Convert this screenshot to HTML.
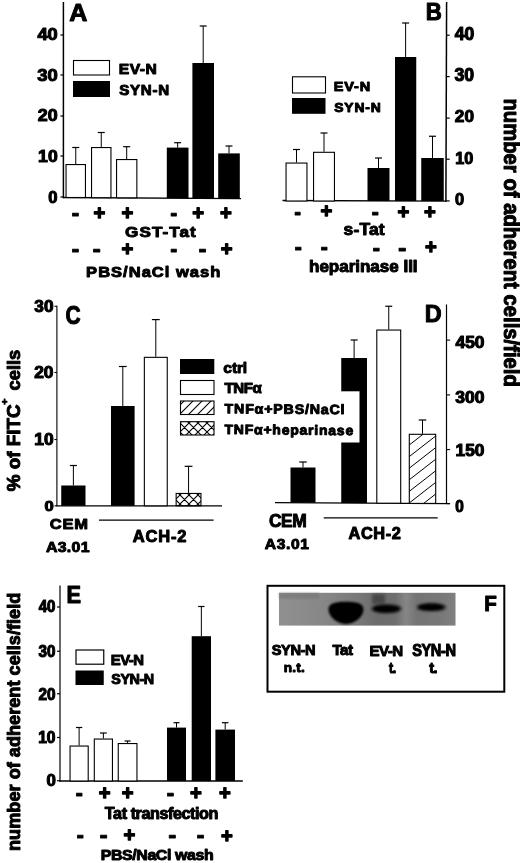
<!DOCTYPE html>
<html><head><meta charset="utf-8"><title>Figure</title>
<style>
html,body{margin:0;padding:0;background:#fff;}
body{width:520px;height:863px;overflow:hidden;}
svg{display:block;}
svg text{font-family:"Liberation Sans",sans-serif;font-weight:700;fill:#000;stroke:#000;stroke-linejoin:round;}
</style></head><body>
<svg width="520" height="863" viewBox="0 0 520 863">
<defs>
<pattern id="hatch" width="9" height="9" patternUnits="userSpaceOnUse" patternTransform="translate(0 0)">
<path d="M-1 10 L10 -1 M-1 1 L1 -1 M8 10 L10 8" stroke="#000" stroke-width="1.1" fill="none"/>
</pattern>
<pattern id="xhatch" width="9" height="9" patternUnits="userSpaceOnUse">
<path d="M-1 10 L10 -1 M-1 1 L1 -1 M8 10 L10 8 M-1 -1 L10 10 M-1 8 L1 10 M8 -1 L10 1" stroke="#000" stroke-width="1.1" fill="none"/>
</pattern>
<linearGradient id="blotg" x1="0" x2="1" y1="0" y2="0">
<stop offset="0" stop-color="#909090"/><stop offset="0.25" stop-color="#878787"/><stop offset="0.45" stop-color="#787878"/><stop offset="0.55" stop-color="#6c6c6c"/><stop offset="0.66" stop-color="#6e6e6e"/><stop offset="0.72" stop-color="#868686"/><stop offset="0.78" stop-color="#747474"/><stop offset="0.92" stop-color="#787878"/><stop offset="1" stop-color="#808080"/>
</linearGradient>
<filter id="blur2" x="-20%" y="-50%" width="140%" height="200%"><feGaussianBlur stdDeviation="1.6"/></filter>
<filter id="blur1" x="-20%" y="-50%" width="140%" height="200%"><feGaussianBlur stdDeviation="1.2"/></filter>
</defs>
<rect width="520" height="863" fill="#fff"/>
<line x1="63.40" y1="2.00" x2="63.40" y2="198.20" stroke="#000" stroke-width="1.5"/>
<line x1="60.40" y1="35.00" x2="63.40" y2="35.00" stroke="#000" stroke-width="1.2"/>
<line x1="60.40" y1="75.00" x2="63.40" y2="75.00" stroke="#000" stroke-width="1.2"/>
<line x1="60.40" y1="116.00" x2="63.40" y2="116.00" stroke="#000" stroke-width="1.2"/>
<line x1="60.40" y1="156.00" x2="63.40" y2="156.00" stroke="#000" stroke-width="1.2"/>
<line x1="60.40" y1="197.00" x2="63.40" y2="197.00" stroke="#000" stroke-width="1.2"/>
<line x1="62.80" y1="197.50" x2="241.00" y2="198.60" stroke="#000" stroke-width="1.4"/>
<text transform="matrix(1.8294 0 0 1.7286 37.38 40.25)" font-size="10" stroke-width="0.619">40</text>
<text transform="matrix(1.8469 0 0 1.7286 37.19 80.95)" font-size="10" stroke-width="0.616">30</text>
<text transform="matrix(1.7874 0 0 1.7000 37.82 121.45)" font-size="10" stroke-width="0.631">20</text>
<text transform="matrix(1.7612 0 0 1.6857 38.11 161.55)" font-size="10" stroke-width="0.638">10</text>
<text transform="matrix(1.6632 0 0 1.6857 48.18 203.15)" font-size="10" stroke-width="0.657">0</text>
<line x1="75.75" y1="147.50" x2="75.75" y2="164.00" stroke="#000" stroke-width="1.0"/>
<line x1="72.25" y1="147.50" x2="79.25" y2="147.50" stroke="#000" stroke-width="1.2"/>
<rect x="66.05" y="164.55" width="19.40" height="32.95" fill="#fff" stroke="#000" stroke-width="1.1"/>
<line x1="101.25" y1="132.50" x2="101.25" y2="147.00" stroke="#000" stroke-width="1.0"/>
<line x1="97.75" y1="132.50" x2="104.75" y2="132.50" stroke="#000" stroke-width="1.2"/>
<rect x="91.55" y="147.55" width="19.40" height="50.15" fill="#fff" stroke="#000" stroke-width="1.1"/>
<line x1="126.70" y1="146.70" x2="126.70" y2="159.00" stroke="#000" stroke-width="1.0"/>
<line x1="123.20" y1="146.70" x2="130.20" y2="146.70" stroke="#000" stroke-width="1.2"/>
<rect x="116.55" y="159.55" width="20.30" height="38.25" fill="#fff" stroke="#000" stroke-width="1.1"/>
<line x1="177.65" y1="142.70" x2="177.65" y2="147.60" stroke="#000" stroke-width="1.0"/>
<line x1="174.15" y1="142.70" x2="181.15" y2="142.70" stroke="#000" stroke-width="1.2"/>
<rect x="166.80" y="147.60" width="21.70" height="50.50" fill="#000"/>
<line x1="203.20" y1="26.00" x2="203.20" y2="63.00" stroke="#000" stroke-width="1.0"/>
<line x1="199.70" y1="26.00" x2="206.70" y2="26.00" stroke="#000" stroke-width="1.2"/>
<rect x="192.40" y="63.00" width="21.60" height="135.30" fill="#000"/>
<line x1="229.00" y1="146.00" x2="229.00" y2="153.40" stroke="#000" stroke-width="1.0"/>
<line x1="225.50" y1="146.00" x2="232.50" y2="146.00" stroke="#000" stroke-width="1.2"/>
<rect x="218.20" y="153.40" width="21.60" height="45.10" fill="#000"/>
<rect x="73.50" y="60.50" width="36.00" height="14.50" fill="#fff" stroke="#000" stroke-width="1.1"/>
<rect x="73.00" y="81.00" width="37.00" height="16.00" fill="#000" stroke="none" stroke-width="0"/>
<text transform="matrix(1.5675 0 0 1.5072 118.68 74.20)" font-size="10" stroke-width="0.651" letter-spacing="0.343">EV-N</text>
<text transform="matrix(1.5154 0 0 1.4571 119.15 94.70)" font-size="10" stroke-width="0.673" letter-spacing="0.497">SYN-N</text>
<text transform="matrix(2.5075 0 0 2.3623 69.37 20.50)" font-size="10" stroke-width="0.411">A</text>
<text transform="matrix(2.3529 0 0 2.4167 71.46 220.58)" font-size="10" stroke-width="0.335">-</text>
<text transform="matrix(2.0198 0 0 2.0000 93.59 220.10)" font-size="10" stroke-width="0.647">+</text>
<text transform="matrix(2.0198 0 0 2.0000 121.39 220.10)" font-size="10" stroke-width="0.647">+</text>
<text transform="matrix(2.1176 0 0 2.4167 170.15 220.58)" font-size="10" stroke-width="0.354">-</text>
<text transform="matrix(2.0198 0 0 2.0000 192.19 220.10)" font-size="10" stroke-width="0.647">+</text>
<text transform="matrix(2.0198 0 0 2.0000 219.89 220.10)" font-size="10" stroke-width="0.647">+</text>
<text transform="matrix(1.7171 0 0 1.4714 125.11 237.40)" font-size="10" stroke-width="0.629" letter-spacing="0.600">GST-Tat</text>
<text transform="matrix(2.3529 0 0 2.4167 71.46 256.78)" font-size="10" stroke-width="0.335">-</text>
<text transform="matrix(2.5098 0 0 2.4167 92.40 256.78)" font-size="10" stroke-width="0.325">-</text>
<text transform="matrix(2.0198 0 0 2.0000 121.39 256.10)" font-size="10" stroke-width="0.647">+</text>
<text transform="matrix(2.1176 0 0 2.4167 170.15 256.78)" font-size="10" stroke-width="0.354">-</text>
<text transform="matrix(2.4314 0 0 2.4167 198.43 256.78)" font-size="10" stroke-width="0.330">-</text>
<text transform="matrix(2.0198 0 0 2.0000 220.69 256.10)" font-size="10" stroke-width="0.647">+</text>
<text transform="matrix(1.6556 0 0 1.5034 86.12 276.50)" font-size="10" stroke-width="0.634" letter-spacing="0.600">PBS/NaCl wash</text>
<line x1="446.60" y1="2.00" x2="445.90" y2="201.70" stroke="#000" stroke-width="1.5"/>
<line x1="446.20" y1="35.20" x2="449.70" y2="35.20" stroke="#000" stroke-width="1.2"/>
<line x1="446.20" y1="76.60" x2="449.70" y2="76.60" stroke="#000" stroke-width="1.2"/>
<line x1="446.20" y1="118.10" x2="449.70" y2="118.10" stroke="#000" stroke-width="1.2"/>
<line x1="446.20" y1="159.20" x2="449.70" y2="159.20" stroke="#000" stroke-width="1.2"/>
<line x1="446.20" y1="200.90" x2="449.70" y2="200.90" stroke="#000" stroke-width="1.2"/>
<line x1="282.50" y1="200.50" x2="446.50" y2="201.10" stroke="#000" stroke-width="1.4"/>
<text transform="matrix(1.7536 0 0 1.8000 454.69 39.75)" font-size="10" stroke-width="0.619">40</text>
<text transform="matrix(1.7703 0 0 1.7714 454.51 80.75)" font-size="10" stroke-width="0.621">30</text>
<text transform="matrix(1.7198 0 0 1.7000 454.85 121.75)" font-size="10" stroke-width="0.643">20</text>
<text transform="matrix(1.6219 0 0 1.6571 455.20 163.95)" font-size="10" stroke-width="0.671">10</text>
<text transform="matrix(1.6421 0 0 1.7000 454.89 205.15)" font-size="10" stroke-width="0.658">0</text>
<line x1="296.50" y1="149.50" x2="296.50" y2="162.50" stroke="#000" stroke-width="1.0"/>
<line x1="293.00" y1="149.50" x2="300.00" y2="149.50" stroke="#000" stroke-width="1.2"/>
<rect x="286.05" y="163.05" width="20.90" height="37.95" fill="#fff" stroke="#000" stroke-width="1.1"/>
<line x1="324.00" y1="133.00" x2="324.00" y2="151.75" stroke="#000" stroke-width="1.0"/>
<line x1="320.50" y1="133.00" x2="327.50" y2="133.00" stroke="#000" stroke-width="1.2"/>
<rect x="313.55" y="152.30" width="20.90" height="48.70" fill="#fff" stroke="#000" stroke-width="1.1"/>
<line x1="378.50" y1="158.00" x2="378.50" y2="168.00" stroke="#000" stroke-width="1.0"/>
<line x1="375.00" y1="158.00" x2="382.00" y2="158.00" stroke="#000" stroke-width="1.2"/>
<rect x="367.50" y="168.00" width="22.00" height="33.00" fill="#000"/>
<line x1="405.62" y1="23.00" x2="405.62" y2="57.00" stroke="#000" stroke-width="1.0"/>
<line x1="402.12" y1="23.00" x2="409.12" y2="23.00" stroke="#000" stroke-width="1.2"/>
<rect x="395.00" y="57.00" width="21.25" height="144.00" fill="#000"/>
<line x1="432.50" y1="136.25" x2="432.50" y2="158.00" stroke="#000" stroke-width="1.0"/>
<line x1="429.00" y1="136.25" x2="436.00" y2="136.25" stroke="#000" stroke-width="1.2"/>
<rect x="421.25" y="158.00" width="22.50" height="43.00" fill="#000"/>
<rect x="292.50" y="76.80" width="33.00" height="16.20" fill="#fff" stroke="#000" stroke-width="1.1"/>
<rect x="292.00" y="98.00" width="33.50" height="15.80" fill="#000" stroke="none" stroke-width="0"/>
<text transform="matrix(1.4538 0 0 1.3333 333.76 90.50)" font-size="10" stroke-width="0.718" letter-spacing="0.600">EV-N</text>
<text transform="matrix(1.3856 0 0 1.3000 334.28 111.50)" font-size="10" stroke-width="0.745" letter-spacing="0.600">SYN-N</text>
<text transform="matrix(2.2295 0 0 2.3478 425.75 20.00)" font-size="10" stroke-width="0.437">B</text>
<text transform="matrix(2.0392 0 0 2.4167 294.18 219.58)" font-size="10" stroke-width="0.360">-</text>
<text transform="matrix(2.0198 0 0 2.0000 320.39 218.30)" font-size="10" stroke-width="0.647">+</text>
<text transform="matrix(2.2353 0 0 2.4167 371.51 219.78)" font-size="10" stroke-width="0.344">-</text>
<text transform="matrix(2.0198 0 0 2.0000 397.39 218.60)" font-size="10" stroke-width="0.647">+</text>
<text transform="matrix(2.0198 0 0 2.0000 423.89 218.60)" font-size="10" stroke-width="0.647">+</text>
<text transform="matrix(1.7484 0 0 1.6812 343.59 234.50)" font-size="10" stroke-width="0.583" letter-spacing="0.086">s-Tat</text>
<text transform="matrix(2.2353 0 0 2.4167 294.51 255.18)" font-size="10" stroke-width="0.344">-</text>
<text transform="matrix(2.2353 0 0 2.4167 320.51 255.18)" font-size="10" stroke-width="0.344">-</text>
<text transform="matrix(2.2745 0 0 2.4167 372.49 255.88)" font-size="10" stroke-width="0.341">-</text>
<text transform="matrix(2.5490 0 0 2.4167 397.88 255.88)" font-size="10" stroke-width="0.322">-</text>
<text transform="matrix(2.0198 0 0 2.0000 424.89 254.00)" font-size="10" stroke-width="0.647">+</text>
<text transform="matrix(1.7070 0 0 1.6414 309.01 271.80)" font-size="10" stroke-width="0.597" letter-spacing="-0.021">heparinase III</text>
<text transform="matrix(0 2.0298 -2.1655 0 503.50 98.38)" font-size="10" stroke-width="0.477">number of adherent cells/field</text>
<line x1="56.90" y1="305.70" x2="56.90" y2="506.30" stroke="#000" stroke-width="1.1"/>
<line x1="54.50" y1="306.25" x2="56.90" y2="306.25" stroke="#000" stroke-width="1.1"/>
<line x1="54.50" y1="372.50" x2="56.90" y2="372.50" stroke="#000" stroke-width="1.1"/>
<line x1="54.50" y1="439.50" x2="56.90" y2="439.50" stroke="#000" stroke-width="1.1"/>
<line x1="54.50" y1="505.80" x2="56.90" y2="505.80" stroke="#000" stroke-width="1.1"/>
<line x1="56.40" y1="505.80" x2="222.00" y2="505.80" stroke="#000" stroke-width="1.2"/>
<text transform="matrix(1.7225 0 0 1.6571 34.32 311.75)" font-size="10" stroke-width="0.651">30</text>
<text transform="matrix(1.7391 0 0 1.6571 34.14 378.15)" font-size="10" stroke-width="0.648">20</text>
<text transform="matrix(1.7413 0 0 1.6000 34.32 444.75)" font-size="10" stroke-width="0.659">10</text>
<text transform="matrix(1.6632 0 0 1.5143 44.38 511.15)" font-size="10" stroke-width="0.693">0</text>
<line x1="73.38" y1="465.50" x2="73.38" y2="485.50" stroke="#000" stroke-width="1.0"/>
<line x1="69.88" y1="465.50" x2="76.88" y2="465.50" stroke="#000" stroke-width="1.2"/>
<rect x="61.25" y="485.50" width="24.25" height="20.30" fill="#000"/>
<line x1="122.80" y1="366.50" x2="122.80" y2="406.00" stroke="#000" stroke-width="1.0"/>
<line x1="118.90" y1="366.50" x2="126.70" y2="366.50" stroke="#000" stroke-width="1.2"/>
<rect x="111.00" y="406.00" width="23.60" height="99.80" fill="#000"/>
<line x1="155.80" y1="319.60" x2="155.80" y2="356.80" stroke="#000" stroke-width="1.0"/>
<line x1="151.90" y1="319.60" x2="159.70" y2="319.60" stroke="#000" stroke-width="1.2"/>
<rect x="144.35" y="357.35" width="22.90" height="148.45" fill="#fff" stroke="#000" stroke-width="1.1"/>
<line x1="188.55" y1="466.30" x2="188.55" y2="492.90" stroke="#000" stroke-width="1.0"/>
<line x1="184.65" y1="466.30" x2="192.45" y2="466.30" stroke="#000" stroke-width="1.2"/>
<rect x="176.15" y="493.45" width="24.80" height="12.35" fill="url(#xhatch)" stroke="#000" stroke-width="1.1"/>
<rect x="180.00" y="359.00" width="34.30" height="15.00" fill="#000" stroke="none" stroke-width="0"/>
<rect x="180.50" y="380.50" width="33.50" height="14.00" fill="#fff" stroke="#000" stroke-width="1.1"/>
<rect x="180.50" y="401.00" width="33.50" height="13.50" fill="url(#hatch)" stroke="#000" stroke-width="1.1"/>
<rect x="180.50" y="421.70" width="33.50" height="13.30" fill="url(#xhatch)" stroke="#000" stroke-width="1.1"/>
<text transform="matrix(2.0916 0 0 2.5214 65.56 323.55)" font-size="10" stroke-width="0.435">C</text>
<text transform="matrix(1.6500 0 0 1.5000 49.84 528.90)" font-size="10" stroke-width="0.636" letter-spacing="0.425">CEM</text>
<text transform="matrix(1.5897 0 0 1.5286 45.90 552.10)" font-size="10" stroke-width="0.642" letter-spacing="0.209">A3.01</text>
<line x1="99.00" y1="520.10" x2="213.60" y2="520.10" stroke="#000" stroke-width="1.2"/>
<text transform="matrix(1.6491 0 0 1.5857 132.79 542.20)" font-size="10" stroke-width="0.618" letter-spacing="0.499">ACH-2</text>
<text transform="matrix(0 -1.8860 1.7655 0 19.80 491.27)" font-size="10" stroke-width="0.548">% of FITC</text>
<text transform="matrix(0 -1.0297 0.8547 0 8.30 404.81)" font-size="10" stroke-width="1.066">+</text>
<text transform="matrix(0 -1.8368 1.7655 0 19.80 390.53)" font-size="10" stroke-width="0.555">cells</text>
<line x1="446.50" y1="304.50" x2="446.50" y2="504.00" stroke="#000" stroke-width="1.2"/>
<line x1="446.50" y1="340.10" x2="450.10" y2="340.10" stroke="#000" stroke-width="1.1"/>
<line x1="446.50" y1="394.90" x2="450.10" y2="394.90" stroke="#000" stroke-width="1.1"/>
<line x1="446.50" y1="449.60" x2="450.10" y2="449.60" stroke="#000" stroke-width="1.1"/>
<line x1="446.50" y1="503.60" x2="450.10" y2="503.60" stroke="#000" stroke-width="1.1"/>
<line x1="275.00" y1="502.60" x2="450.00" y2="503.60" stroke="#000" stroke-width="1.2"/>
<text transform="matrix(1.7391 0 0 1.6143 455.49 348.35)" font-size="10" stroke-width="0.657">450</text>
<text transform="matrix(1.7500 0 0 1.5571 455.31 402.85)" font-size="10" stroke-width="0.666">300</text>
<text transform="matrix(1.7308 0 0 1.6286 455.62 456.45)" font-size="10" stroke-width="0.655">150</text>
<text transform="matrix(1.5368 0 0 1.5571 455.34 511.65)" font-size="10" stroke-width="0.711">0</text>
<line x1="303.00" y1="462.00" x2="303.00" y2="467.50" stroke="#000" stroke-width="1.0"/>
<line x1="299.25" y1="462.00" x2="306.75" y2="462.00" stroke="#000" stroke-width="1.2"/>
<rect x="290.50" y="467.50" width="25.00" height="35.20" fill="#000"/>
<line x1="354.12" y1="340.00" x2="354.12" y2="358.00" stroke="#000" stroke-width="1.0"/>
<line x1="350.62" y1="340.00" x2="357.62" y2="340.00" stroke="#000" stroke-width="1.2"/>
<rect x="341.25" y="358.00" width="25.75" height="145.00" fill="#000"/>
<rect x="222" y="391.3" width="137.5" height="51.2" fill="#fff"/>
<line x1="388.75" y1="306.25" x2="388.75" y2="329.50" stroke="#000" stroke-width="1.0"/>
<line x1="385.25" y1="306.25" x2="392.25" y2="306.25" stroke="#000" stroke-width="1.2"/>
<rect x="376.80" y="330.05" width="23.90" height="173.15" fill="#fff" stroke="#000" stroke-width="1.1"/>
<line x1="422.50" y1="420.00" x2="422.50" y2="433.75" stroke="#000" stroke-width="1.0"/>
<line x1="418.75" y1="420.00" x2="426.25" y2="420.00" stroke="#000" stroke-width="1.2"/>
<rect x="409.30" y="434.30" width="26.40" height="69.10" fill="#fff" stroke="#000" stroke-width="1.1"/>
<clipPath id="hbclip"><rect x="409.3" y="434.3" width="26.4" height="69.1"/></clipPath>
<path clip-path="url(#hbclip)" d="M408.75 433.80 L436.25 412.35 M408.75 445.40 L436.25 423.95 M408.75 457.00 L436.25 435.55 M408.75 468.60 L436.25 447.15 M408.75 480.20 L436.25 458.75 M408.75 491.80 L436.25 470.35 M408.75 503.40 L436.25 481.95 M408.75 515.00 L436.25 493.55 M408.75 526.60 L436.25 505.15 M408.75 538.20 L436.25 516.75" stroke="#000" stroke-width="1.0" fill="none"/>
<text transform="matrix(2.3415 0 0 2.4493 424.68 321.80)" font-size="10" stroke-width="0.418">D</text>
<text transform="matrix(1.7445 0 0 1.8286 269.00 526.80)" font-size="10" stroke-width="0.560" letter-spacing="-0.300">CEM</text>
<text transform="matrix(1.5600 0 0 1.5000 264.81 549.20)" font-size="10" stroke-width="0.654" letter-spacing="0.410">A3.01</text>
<line x1="323.75" y1="517.80" x2="437.70" y2="517.80" stroke="#000" stroke-width="1.2"/>
<text transform="matrix(1.6343 0 0 1.5714 348.54 539.20)" font-size="10" stroke-width="0.624" letter-spacing="0.365">ACH-2</text>
<text transform="matrix(1.5636 0 0 1.5034 223.37 372.50)" font-size="10" stroke-width="0.652" letter-spacing="-0.116">ctrl</text>
<text transform="matrix(1.5072 0 0 1.4493 224.55 393.20)" font-size="10" stroke-width="0.677" letter-spacing="-0.262">TNFα</text>
<text transform="rotate(0.35 224.56 413.30) matrix(1.4166 0 0 1.3379 224.56 413.30)" font-size="10" stroke-width="0.726" letter-spacing="0.600">TNFα+PBS/NaCl</text>
<text transform="rotate(0.55 224.56 433.90) matrix(1.3914 0 0 1.3379 224.56 433.90)" font-size="10" stroke-width="0.733" letter-spacing="0.594">TNFα+heparinase</text>
<line x1="60.00" y1="585.50" x2="60.00" y2="781.70" stroke="#000" stroke-width="1.2"/>
<line x1="57.00" y1="607.00" x2="60.00" y2="607.00" stroke="#000" stroke-width="1.2"/>
<line x1="57.00" y1="651.25" x2="60.00" y2="651.25" stroke="#000" stroke-width="1.2"/>
<line x1="57.00" y1="693.75" x2="60.00" y2="693.75" stroke="#000" stroke-width="1.2"/>
<line x1="57.00" y1="737.50" x2="60.00" y2="737.50" stroke="#000" stroke-width="1.2"/>
<line x1="57.00" y1="780.70" x2="60.00" y2="780.70" stroke="#000" stroke-width="1.2"/>
<line x1="59.40" y1="781.00" x2="242.80" y2="781.00" stroke="#000" stroke-width="1.3"/>
<text transform="matrix(1.5071 0 0 1.7429 38.72 612.45)" font-size="10" stroke-width="0.679">40</text>
<text transform="matrix(1.5215 0 0 1.7286 38.57 656.95)" font-size="10" stroke-width="0.678">30</text>
<text transform="matrix(1.5362 0 0 1.7429 38.41 699.75)" font-size="10" stroke-width="0.672">20</text>
<text transform="matrix(1.5622 0 0 1.6857 38.13 743.15)" font-size="10" stroke-width="0.678">10</text>
<text transform="matrix(1.6842 0 0 1.6714 46.58 786.25)" font-size="10" stroke-width="0.656">0</text>
<line x1="79.12" y1="727.50" x2="79.12" y2="745.50" stroke="#000" stroke-width="1.0"/>
<line x1="75.97" y1="727.50" x2="82.28" y2="727.50" stroke="#000" stroke-width="1.2"/>
<rect x="70.05" y="746.05" width="18.15" height="34.95" fill="#fff" stroke="#000" stroke-width="1.1"/>
<line x1="103.38" y1="733.00" x2="103.38" y2="738.50" stroke="#000" stroke-width="1.0"/>
<line x1="99.97" y1="733.00" x2="106.78" y2="733.00" stroke="#000" stroke-width="1.2"/>
<rect x="94.30" y="739.05" width="18.15" height="41.95" fill="#fff" stroke="#000" stroke-width="1.1"/>
<line x1="127.60" y1="741.00" x2="127.60" y2="743.00" stroke="#000" stroke-width="1.0"/>
<line x1="124.60" y1="741.00" x2="130.60" y2="741.00" stroke="#000" stroke-width="1.2"/>
<rect x="118.25" y="743.55" width="18.70" height="37.45" fill="#fff" stroke="#000" stroke-width="1.1"/>
<line x1="176.50" y1="722.70" x2="176.50" y2="727.60" stroke="#000" stroke-width="1.0"/>
<line x1="173.50" y1="722.70" x2="179.50" y2="722.70" stroke="#000" stroke-width="1.2"/>
<rect x="167.00" y="727.60" width="19.00" height="53.40" fill="#000"/>
<line x1="201.35" y1="606.50" x2="201.35" y2="636.20" stroke="#000" stroke-width="1.0"/>
<line x1="198.15" y1="606.50" x2="204.55" y2="606.50" stroke="#000" stroke-width="1.2"/>
<rect x="191.70" y="636.20" width="19.30" height="144.80" fill="#000"/>
<line x1="225.20" y1="722.70" x2="225.20" y2="729.60" stroke="#000" stroke-width="1.0"/>
<line x1="221.90" y1="722.70" x2="228.50" y2="722.70" stroke="#000" stroke-width="1.2"/>
<rect x="215.40" y="729.60" width="19.60" height="51.40" fill="#000"/>
<rect x="76.00" y="650.00" width="27.75" height="14.20" fill="#fff" stroke="#000" stroke-width="1.2"/>
<rect x="75.50" y="670.50" width="28.25" height="14.50" fill="#000" stroke="none" stroke-width="0"/>
<text transform="matrix(1.4882 0 0 1.5072 110.73 664.60)" font-size="10" stroke-width="0.668" letter-spacing="-0.300">EV-N</text>
<text transform="matrix(1.4335 0 0 1.4286 111.27 684.20)" font-size="10" stroke-width="0.699" letter-spacing="-0.300">SYN-N</text>
<text transform="matrix(2.1770 0 0 2.3188 66.58 602.80)" font-size="10" stroke-width="0.445">E</text>
<text transform="matrix(2.2353 0 0 2.4167 75.51 800.58)" font-size="10" stroke-width="0.344">-</text>
<text transform="matrix(2.0198 0 0 2.0000 98.69 799.90)" font-size="10" stroke-width="0.647">+</text>
<text transform="matrix(2.0198 0 0 2.0000 121.79 799.90)" font-size="10" stroke-width="0.647">+</text>
<text transform="matrix(2.3529 0 0 2.4167 166.46 800.78)" font-size="10" stroke-width="0.335">-</text>
<text transform="matrix(2.0198 0 0 2.0000 190.09 800.40)" font-size="10" stroke-width="0.647">+</text>
<text transform="matrix(2.0198 0 0 2.0000 218.89 800.40)" font-size="10" stroke-width="0.647">+</text>
<text transform="matrix(1.6210 0 0 1.5586 104.84 819.00)" font-size="10" stroke-width="0.629" letter-spacing="-0.276">Tat transfection</text>
<text transform="matrix(2.2353 0 0 2.4167 76.51 842.78)" font-size="10" stroke-width="0.344">-</text>
<text transform="matrix(2.4706 0 0 2.4167 99.41 842.78)" font-size="10" stroke-width="0.327">-</text>
<text transform="matrix(2.0198 0 0 2.0000 123.39 842.20)" font-size="10" stroke-width="0.647">+</text>
<text transform="matrix(2.4314 0 0 2.4167 168.23 843.28)" font-size="10" stroke-width="0.330">-</text>
<text transform="matrix(2.4314 0 0 2.4167 196.43 843.28)" font-size="10" stroke-width="0.330">-</text>
<text transform="matrix(2.0198 0 0 2.0000 220.89 842.70)" font-size="10" stroke-width="0.647">+</text>
<text transform="matrix(1.5923 0 0 1.5310 100.67 860.40)" font-size="10" stroke-width="0.640" letter-spacing="-0.240">PBS/NaCl wash</text>
<text transform="matrix(0 -1.8170 1.8483 0 20.40 850.98)" font-size="10" stroke-width="0.546">number of adherent cells/field</text>
<rect x="267.50" y="585.80" width="236.80" height="105.90" fill="#fff" stroke="#000" stroke-width="2"/>
<rect x="279" y="592.8" width="176.5" height="32.8" fill="url(#blotg)"/>
<rect x="279" y="592.8" width="40" height="6" fill="#6a6a6a" opacity="0.45" filter="url(#blur1)"/>
<rect x="372" y="594" width="13" height="10" fill="#2a2a2a" opacity="0.55" filter="url(#blur2)"/>
<path d="M328.5 609 C328.5 603 337 601.8 346 601.8 C355 601.8 363.5 603 363.5 609 C363.5 615.5 358 621 351 623.3 C348 624.3 344 624.3 341 623.3 C334 621 328.5 615.5 328.5 609 Z" fill="#000" filter="url(#blur1)"/>
<path d="M330.5 609 C330.5 604.5 338 603.4 346 603.4 C354 603.4 361.5 604.5 361.5 609 C361.5 614.5 356 619.5 350 621.8 C347.5 622.7 344.5 622.7 342 621.8 C336 619.5 330.5 614.5 330.5 609 Z" fill="#000"/>
<ellipse cx="386.5" cy="608.8" rx="15" ry="4.2" fill="#0a0a0a" filter="url(#blur2)"/>
<ellipse cx="386" cy="608.8" rx="12.5" ry="2.9" fill="#050505" filter="url(#blur1)"/>
<ellipse cx="431.3" cy="607.2" rx="14.5" ry="3.9" fill="#0a0a0a" filter="url(#blur2)"/>
<ellipse cx="431" cy="607.2" rx="12" ry="2.6" fill="#050505" filter="url(#blur1)"/>
<text transform="matrix(1.4646 0 0 1.5143 271.76 655.20)" font-size="10" stroke-width="0.671" letter-spacing="-0.300">SYN-N</text>
<text transform="matrix(1.5019 0 0 1.5362 332.45 655.20)" font-size="10" stroke-width="0.658" letter-spacing="-0.300">Tat</text>
<text transform="matrix(1.5071 0 0 1.5072 369.42 655.70)" font-size="10" stroke-width="0.663" letter-spacing="-0.300">EV-N</text>
<text transform="matrix(1.4611 0 0 1.5857 412.26 656.00)" font-size="10" stroke-width="0.657" letter-spacing="-0.300">SYN-N</text>
<text transform="matrix(1.3655 0 0 1.3130 283.71 672.00)" font-size="10" stroke-width="0.747" letter-spacing="0.137">n.t.</text>
<text transform="matrix(1.2277 0 0 1.4351 389.08 672.50)" font-size="10" stroke-width="0.753" letter-spacing="-0.300">t.</text>
<text transform="matrix(1.4455 0 0 1.4351 429.16 672.50)" font-size="10" stroke-width="0.694" letter-spacing="-0.300">t.</text>
<text transform="matrix(2.0588 0 0 2.2319 484.16 611.00)" font-size="10" stroke-width="0.467">F</text>
</svg>
</body></html>
